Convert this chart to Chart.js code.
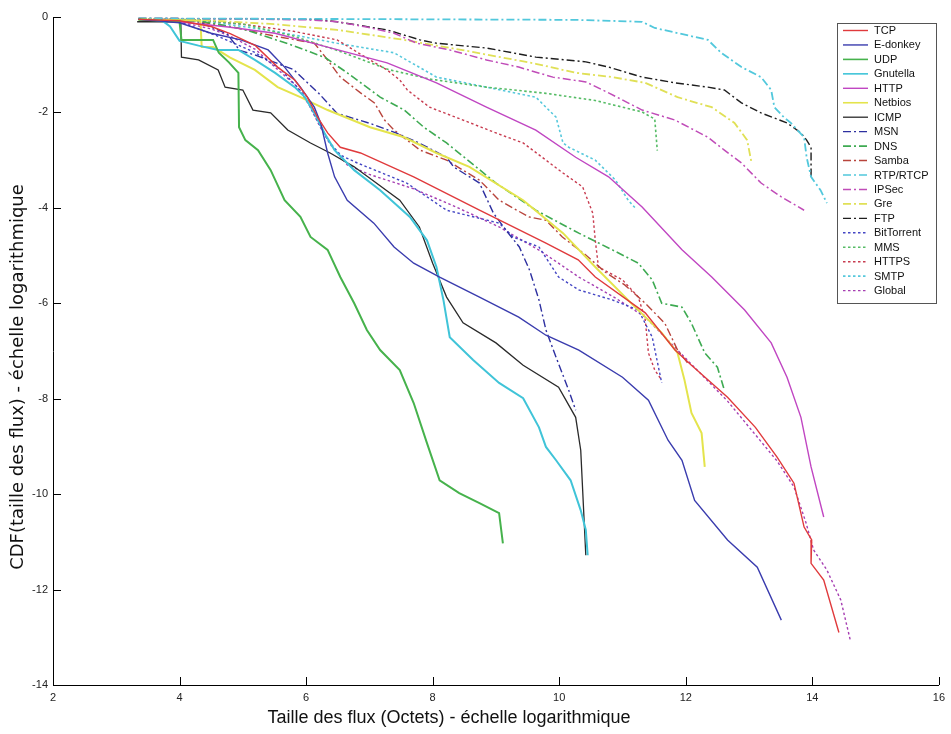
<!DOCTYPE html>
<html>
<head>
<meta charset="utf-8">
<script src="https://cdn.jsdelivr.net/npm/chart.js@4.4.1/dist/chart.umd.min.js"></script>
<style>
html,body{margin:0;padding:0;background:#fff;}
#wrap{width:951px;height:734px;}
</style>
</head>
<body>
<div id="wrap"><canvas id="c" width="951" height="734"></canvas></div>
<script>
// ---- Data (x = log flow size, y = log CDF) ----
const seriesNames = ['TCP','E-donkey','UDP','Gnutella','HTTP','Netbios','ICMP','MSN','DNS','Samba','RTP/RTCP','IPSec','Gre','FTP','BitTorrent','MMS','HTTPS','SMTP','Global'];

const TCP = [[3.35,-0.05],[4.0,-0.08],[4.5,-0.2],[4.8,-0.35],[5.2,-0.6],[5.55,-1.05],[5.82,-1.32],[6.02,-1.68],[6.18,-2.1],[6.34,-2.43],[6.54,-2.73],[6.86,-2.85],[7.7,-3.35],[8.74,-4.05],[9.79,-4.74],[10.3,-5.09],[10.57,-5.45],[11.36,-6.2],[11.83,-6.98],[12.09,-7.3],[12.66,-7.97],[13.1,-8.6],[13.44,-9.22],[13.71,-9.77],[13.87,-10.69],[13.99,-10.96],[13.98,-11.45],[14.18,-11.8],[14.42,-12.9]];
const EDONKEY = [[3.35,-0.05],[4.0,-0.12],[4.5,-0.34],[4.97,-0.48],[5.4,-0.69],[5.66,-1.05],[5.91,-1.47],[6.13,-1.89],[6.23,-2.22],[6.34,-2.85],[6.45,-3.35],[6.65,-3.84],[7.07,-4.32],[7.39,-4.82],[7.7,-5.16],[8.11,-5.45],[8.74,-5.87],[9.36,-6.29],[9.79,-6.67],[10.31,-6.98],[11.0,-7.55],[11.41,-8.03],[11.72,-8.87],[11.94,-9.29],[12.14,-10.13],[12.66,-10.96],[13.13,-11.53],[13.51,-12.64]];
const UDP = [[3.35,-0.05],[4.0,-0.1],[4.03,-0.48],[4.53,-0.48],[4.62,-0.75],[4.78,-0.95],[4.93,-1.17],[4.94,-2.31],[5.04,-2.58],[5.24,-2.79],[5.44,-3.21],[5.66,-3.84],[5.91,-4.19],[6.07,-4.61],[6.34,-4.88],[6.54,-5.45],[6.76,-6.0],[6.96,-6.56],[7.17,-6.98],[7.48,-7.4],[7.7,-8.09],[7.91,-8.93],[8.11,-9.71],[8.42,-9.98],[8.74,-10.19],[9.05,-10.4],[9.11,-11.03]];
const GNUTELLA = [[3.7,-0.05],[3.85,-0.2],[4.0,-0.5],[4.3,-0.6],[4.61,-0.69],[4.93,-0.69],[5.19,-0.9],[5.51,-1.17],[5.82,-1.47],[5.98,-1.68],[6.13,-2.01],[6.29,-2.43],[6.45,-2.79],[6.76,-3.21],[7.17,-3.63],[7.64,-4.19],[7.91,-4.68],[8.06,-5.24],[8.17,-5.93],[8.27,-6.71],[8.64,-7.19],[9.05,-7.67],[9.43,-7.99],[9.68,-8.6],[9.79,-9.01],[9.95,-9.29],[10.18,-9.71],[10.34,-10.34],[10.42,-10.75],[10.45,-11.28]];
const HTTP = [[3.35,-0.05],[3.98,-0.1],[4.77,-0.21],[5.51,-0.34],[6.34,-0.63],[7.28,-0.96],[8.06,-1.38],[8.85,-1.89],[9.63,-2.37],[10.26,-2.94],[10.78,-3.35],[11.31,-3.98],[11.94,-4.88],[12.41,-5.45],[12.93,-6.14],[13.35,-6.83],[13.6,-7.55],[13.82,-8.39],[13.98,-9.43],[14.18,-10.48]];
const NETBIOS = [[3.35,-0.05],[4.33,-0.08],[4.35,-0.63],[4.53,-0.63],[4.8,-0.85],[5.19,-1.11],[5.55,-1.47],[5.91,-1.68],[6.34,-1.95],[7.01,-2.31],[7.55,-2.52],[8.06,-2.85],[8.58,-3.14],[9.43,-3.84],[10.06,-4.53],[10.57,-5.24],[11.2,-6.08],[11.62,-6.62],[11.87,-7.04],[11.98,-7.61],[12.09,-8.3],[12.25,-8.72],[12.3,-9.43]];
const ICMP = [[3.33,-0.1],[4.02,-0.1],[4.03,-0.84],[4.3,-0.9],[4.61,-1.11],[4.72,-1.47],[5.0,-1.53],[5.16,-1.95],[5.44,-2.01],[5.71,-2.37],[6.07,-2.64],[6.38,-2.85],[6.76,-3.14],[7.48,-3.84],[7.79,-4.4],[8.0,-5.16],[8.22,-5.87],[8.48,-6.41],[9.0,-6.83],[9.43,-7.3],[9.99,-7.76],[10.26,-8.39],[10.34,-9.08],[10.42,-11.28]];
const MSN = [[3.35,-0.05],[4.3,-0.1],[4.75,-0.35],[4.95,-0.7],[5.2,-0.8],[5.8,-1.1],[6.2,-1.6],[6.49,-2.02],[7.01,-2.23],[7.44,-2.44],[7.8,-2.65],[8.22,-2.94],[8.33,-3.14],[8.74,-3.48],[8.96,-4.11],[9.16,-4.47],[9.37,-4.82],[9.53,-5.3],[9.68,-5.93],[9.79,-6.56],[9.95,-7.13],[10.15,-7.82],[10.26,-8.24]];
const DNS = [[3.35,-0.05],[4.3,-0.08],[5.0,-0.25],[5.8,-0.6],[6.3,-0.85],[6.65,-1.17],[7.17,-1.68],[7.55,-1.95],[7.86,-2.31],[8.22,-2.64],[9.0,-3.48],[9.63,-4.05],[10.31,-4.53],[10.84,-4.88],[11.25,-5.16],[11.47,-5.51],[11.62,-6.0],[11.94,-6.08],[12.09,-6.42],[12.3,-7.04],[12.5,-7.34],[12.61,-7.82]];
const SAMBA = [[3.35,-0.05],[4.2,-0.08],[4.8,-0.2],[5.5,-0.4],[6.13,-0.55],[6.34,-0.9],[6.54,-1.26],[6.86,-1.59],[7.08,-1.8],[7.24,-2.16],[7.39,-2.37],[7.8,-2.79],[8.22,-3.0],[8.74,-3.42],[9.05,-3.84],[9.52,-4.19],[9.79,-4.26],[10.05,-4.61],[10.42,-4.99],[10.73,-5.35],[11.04,-5.62],[11.36,-6.0],[11.67,-6.42],[11.87,-6.98],[12.03,-7.25]];
const RTP = [[3.35,-0.03],[6.0,-0.04],[10.26,-0.06],[11.31,-0.1],[11.51,-0.23],[12.35,-0.48],[12.56,-0.75],[12.88,-1.05],[13.19,-1.26],[13.35,-1.53],[13.4,-1.89],[13.55,-2.1],[13.66,-2.22],[13.87,-2.52],[13.91,-2.94],[13.98,-3.35],[14.13,-3.63],[14.23,-3.9]];
const IPSEC = [[3.35,-0.03],[5.0,-0.04],[6.0,-0.06],[6.49,-0.1],[6.96,-0.21],[7.39,-0.34],[7.75,-0.55],[8.27,-0.69],[8.85,-0.9],[9.36,-1.05],[9.9,-1.26],[10.42,-1.36],[10.78,-1.59],[11.31,-1.95],[11.83,-2.16],[12.35,-2.52],[12.61,-2.79],[12.88,-3.06],[13.19,-3.48],[13.51,-3.77],[13.87,-4.05]];
const GRE = [[3.35,-0.04],[4.3,-0.06],[5.5,-0.15],[6.49,-0.27],[7.55,-0.48],[8.5,-0.7],[9.63,-0.98],[10.26,-1.17],[10.84,-1.26],[11.36,-1.38],[11.87,-1.68],[12.41,-1.89],[12.77,-2.22],[12.97,-2.58],[13.04,-3.06]];
const FTP = [[3.35,-0.03],[5.5,-0.04],[6.13,-0.05],[6.49,-0.1],[7.28,-0.27],[7.8,-0.48],[8.06,-0.55],[8.85,-0.65],[9.63,-0.84],[10.42,-0.94],[10.78,-1.05],[11.31,-1.26],[11.83,-1.38],[12.35,-1.47],[12.61,-1.53],[12.88,-1.8],[13.19,-2.01],[13.6,-2.22],[13.82,-2.43],[13.91,-2.58],[13.98,-2.73],[13.98,-3.35]];
const BITTORRENT = [[3.35,-0.05],[4.0,-0.1],[4.6,-0.4],[5.2,-0.75],[5.6,-1.1],[5.95,-1.6],[6.15,-2.1],[6.35,-2.6],[6.55,-2.9],[6.81,-3.06],[7.59,-3.48],[8.22,-4.05],[9.05,-4.32],[9.27,-4.61],[9.68,-4.82],[9.99,-5.45],[10.31,-5.72],[10.84,-5.93],[11.25,-6.14],[11.47,-6.71],[11.62,-7.67]];
const MMS = [[3.35,-0.04],[4.3,-0.06],[5.0,-0.15],[5.8,-0.4],[6.49,-0.7],[7.3,-1.1],[7.95,-1.3],[8.85,-1.47],[9.79,-1.6],[10.57,-1.75],[11.31,-1.99],[11.51,-2.14],[11.55,-2.8]];
const HTTPS = [[3.35,-0.04],[4.3,-0.06],[5.0,-0.15],[5.8,-0.3],[6.49,-0.48],[7.01,-0.9],[7.28,-1.11],[7.48,-1.32],[7.6,-1.53],[7.95,-1.89],[8.48,-2.16],[9.0,-2.43],[9.43,-2.64],[9.79,-3.0],[10.06,-3.27],[10.37,-3.56],[10.53,-4.11],[10.57,-4.68],[10.62,-5.24],[11.0,-5.51],[11.25,-5.87],[11.36,-6.35],[11.41,-7.04],[11.51,-7.4],[11.62,-7.61]];
const SMTP = [[3.35,-0.04],[4.5,-0.1],[5.5,-0.3],[6.49,-0.55],[7.39,-0.75],[8.06,-1.26],[8.85,-1.47],[9.63,-1.68],[9.95,-2.1],[10.06,-2.64],[10.15,-2.73],[10.57,-3.0],[10.89,-3.42],[11.09,-3.84],[11.2,-4.0]];
const GLOBAL = [[3.35,-0.05],[4.0,-0.1],[4.5,-0.25],[4.8,-0.4],[5.2,-0.68],[5.55,-1.1],[5.85,-1.45],[6.05,-1.85],[6.22,-2.3],[6.4,-2.7],[6.65,-3.1],[7.0,-3.3],[7.7,-3.6],[8.4,-4.0],[9.05,-4.4],[9.7,-4.9],[10.31,-5.45],[10.9,-5.9],[11.36,-6.29],[11.87,-6.98],[12.66,-8.05],[13.44,-9.3],[13.71,-9.85],[13.9,-10.6],[14.02,-11.17],[14.23,-11.59],[14.45,-12.22],[14.6,-13.06]];

const seriesData = [TCP,EDONKEY,UDP,GNUTELLA,HTTP,NETBIOS,ICMP,MSN,DNS,SAMBA,RTP,IPSEC,GRE,FTP,BITTORRENT,MMS,HTTPS,SMTP,GLOBAL];

// ---- Styles ----
const COL = {r:'#e03a3c', b:'#3a3cae', g:'#46b24c', c:'#40c4d8', m:'#c046c2', y:'#e4e44c', k:'#2a2a2a'};
const SOLID = [], DASHDOT = [8,3,2,3], DOT = [2.5,2.5];
const styles = [
  [COL.r,SOLID,1.4],[COL.b,SOLID,1.4],[COL.g,SOLID,2],[COL.c,SOLID,2],[COL.m,SOLID,1.4],[COL.y,SOLID,2],[COL.k,SOLID,1.3],
  ['#2e30a0',DASHDOT,1.4],['#3eaa52',DASHDOT,1.6],['#b8443c',DASHDOT,1.4],['#52c8dc',DASHDOT,1.8],['#c04cb8',DASHDOT,1.5],['#e0e056',DASHDOT,1.8],['#1e1e1e',DASHDOT,1.4],
  ['#4446c4',DOT,1.4],['#56bc66',DOT,1.6],['#c83c50',DOT,1.4],['#56c8dc',DOT,1.6],['#a63eb2',DOT,1.4]
];

const datasets = seriesNames.map((name,i)=>({
  label: name,
  data: seriesData[i].map(p=>({x:p[0], y:p[1]})),
  borderColor: styles[i][0],
  backgroundColor: styles[i][0],
  borderDash: styles[i][1],
  borderWidth: styles[i][2],
  pointRadius: 0,
  tension: 0,
  fill: false,
  order: i
}));

const decor = {
  id:'decor',
  afterDraw(chart){
    const ctx = chart.ctx, xs = chart.scales.x, ys = chart.scales.y, a = chart.chartArea;
    ctx.save();
    // inward ticks
    ctx.strokeStyle = '#000'; ctx.lineWidth = 1;
    ctx.beginPath();
    xs.ticks.forEach(t=>{ const px = Math.round(xs.getPixelForValue(t.value))+0.5; ctx.moveTo(px,a.bottom); ctx.lineTo(px,a.bottom-8); });
    ys.ticks.forEach(t=>{ const py = Math.round(ys.getPixelForValue(t.value))+0.5; ctx.moveTo(a.left,py); ctx.lineTo(a.left+8,py); });
    ctx.stroke();
    // axis titles
    ctx.fillStyle = '#111';
    ctx.font = '18px "Liberation Sans", Arial, sans-serif';
    ctx.textAlign = 'center'; ctx.textBaseline = 'middle';
    ctx.fillText('Taille des flux (Octets) - échelle logarithmique', 449, 718);
    ctx.save();
    ctx.translate(18, 377); ctx.rotate(-Math.PI/2);
    ctx.font = '18px "DejaVu Sans", sans-serif';
    ctx.fillText('CDF(taille des flux) - échelle logarithmique', 0, 0);
    ctx.restore();
    // legend
    const lx = 837, ly = 23, lw = 99, lh = 280;
    ctx.fillStyle = '#fff'; ctx.fillRect(lx,ly,lw,lh);
    ctx.strokeStyle = '#555'; ctx.lineWidth = 1;
    ctx.strokeRect(lx+0.5,ly+0.5,lw,lh);
    ctx.font = '11px "Liberation Sans", Arial, sans-serif';
    ctx.textAlign = 'left'; ctx.textBaseline = 'middle';
    chart.data.datasets.forEach((d,i)=>{
      const y = 30.5 + i*14.45;
      ctx.strokeStyle = d.borderColor; ctx.lineWidth = Math.min(d.borderWidth,1.6);
      ctx.setLineDash(d.borderDash || []);
      ctx.beginPath(); ctx.moveTo(843,y); ctx.lineTo(868,y); ctx.stroke();
      ctx.setLineDash([]);
      ctx.fillStyle = '#111';
      ctx.fillText(d.label, 874, y+0.5);
    });
    ctx.restore();
  }
};

new Chart(document.getElementById('c'), {
  type: 'line',
  data: { datasets },
  options: {
    responsive: false,
    animation: false,
    layout: { padding: { top: 17, right: 5, left: 0, bottom: 0 } },
    plugins: { legend: { display: false }, tooltip: { enabled: false }, title: { display: false } },
    scales: {
      x: {
        type: 'linear', min: 2, max: 16,
        ticks: { stepSize: 2, color: '#222', font: { size: 11, family: '"Liberation Sans", Arial, sans-serif' }, padding: 6, maxRotation: 0 },
        grid: { display: true, drawOnChartArea: false, drawTicks: false },
        border: { display: true, color: '#000', width: 1 },
        afterFit(s){ s.height = 49; }
      },
      y: {
        type: 'linear', min: -14, max: 0,
        ticks: { stepSize: 2, color: '#222', font: { size: 11, family: '"Liberation Sans", Arial, sans-serif' }, padding: 5 },
        grid: { display: true, drawOnChartArea: false, drawTicks: false },
        border: { display: true, color: '#000', width: 1 },
        afterFit(s){ s.width = 53; }
      }
    }
  },
  plugins: [decor]
});
</script>
</body>
</html>
